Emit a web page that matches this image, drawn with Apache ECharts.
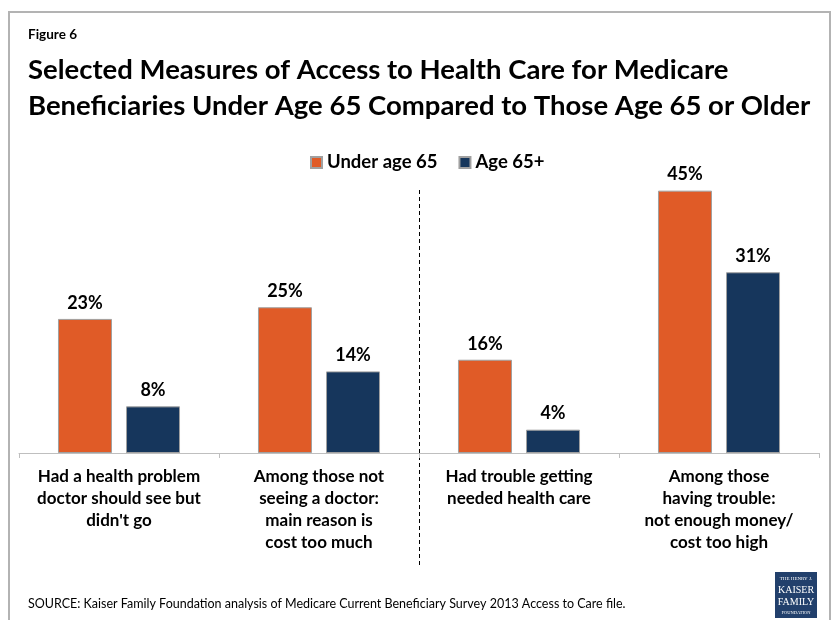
<!DOCTYPE html>
<html>
<head>
<meta charset="utf-8">
<title>Access to Health Care for Medicare Beneficiaries</title>
<script src="https://cdn.jsdelivr.net/npm/echarts@6/dist/echarts.min.js"></script>
<style>
  html, body { margin: 0; padding: 0; background: #ffffff; }
  #chart { width: 835px; height: 620px; }
</style>
</head>
<body>
<div id="chart"></div>
<script>
// Survey measures shown along the category axis
const categories = [
  "Had a health problem\ndoctor should see but\ndidn't go",
  "Among those not\nseeing a doctor:\nmain reason is\ncost too much",
  "Had trouble getting\nneeded health care",
  "Among those\nhaving trouble:\nnot enough money/\ncost too high"
];
const seriesNames = ["Under age 65", "Age 65+"];
const underAge65 = [23, 25, 16, 45];
const age65Plus = [8, 14, 4, 31];

const FONT = "Lato, 'Open Sans', sans-serif";
const ORANGE = '#E05B27';
const NAVY = '#16365C';

const chart = echarts.init(document.getElementById('chart'), null, { renderer: 'canvas' });

const barLabel = {
  show: true,
  position: 'top',
  distance: 7,
  formatter: '{c}%',
  color: '#000',
  fontFamily: FONT,
  fontWeight: 'bold',
  fontSize: 18
};

chart.setOption({
  backgroundColor: '#ffffff',
  animation: false,
  textStyle: { fontFamily: FONT },
  legend: {
    data: seriesNames,
    top: 148,
    left: 305,
    itemWidth: 11,
    itemHeight: 11,
    itemGap: 21,
    icon: 'rect',
    textStyle: { fontFamily: FONT, fontWeight: 'bold', fontSize: 18.5, color: '#000' }
  },
  grid: { left: 19, right: 16, top: 161.5, bottom: 167, containLabel: false },
  xAxis: {
    type: 'category',
    data: categories,
    axisLine: { lineStyle: { color: '#BFBFBF', width: 1 } },
    axisTick: { show: true, length: 5, lineStyle: { color: '#BFBFBF' } },
    axisLabel: {
      interval: 0,
      margin: 13,
      lineHeight: 22,
      color: '#000',
      fontFamily: FONT,
      fontWeight: 'bold',
      fontSize: 17
    }
  },
  yAxis: {
    type: 'value',
    min: 0,
    max: 50,
    show: false,
    splitLine: { show: false }
  },
  series: [
    {
      name: seriesNames[0],
      type: 'bar',
      data: underAge65,
      barWidth: 54,
      barGap: '26%',
      itemStyle: { color: ORANGE, borderColor: '#A0A0A0', borderWidth: 1 },
      label: barLabel
    },
    {
      name: seriesNames[1],
      type: 'bar',
      data: age65Plus,
      barWidth: 54,
      barGap: '26%',
      itemStyle: { color: NAVY, borderColor: '#A0A0A0', borderWidth: 1 },
      label: barLabel
    }
  ]
});

// Separator between the two pairs of measures, placed on the category boundary
const x1 = chart.convertToPixel({ xAxisIndex: 0 }, categories[1]);
const x2 = chart.convertToPixel({ xAxisIndex: 0 }, categories[2]);
const sepX = Math.round((x1 + x2) / 2) + 0.5;

chart.setOption({
  graphic: [
    // Slide frame
    {
      type: 'rect',
      shape: { x: 9, y: 12, width: 821, height: 620 },
      style: { fill: null, stroke: '#B3B3B3', lineWidth: 2 },
      silent: true
    },
    {
      type: 'text',
      left: 28, top: 28,
      style: { text: 'Figure 6', fontFamily: FONT, fontWeight: 'bold', fontSize: 13.5, fill: '#000' }
    },
    {
      type: 'text',
      left: 28, top: 52,
      style: {
        text: 'Selected Measures of Access to Health Care for Medicare\nBeneficiaries Under Age 65 Compared to Those Age 65 or Older',
        fontFamily: FONT, fontWeight: 'bold', fontSize: 27.5, lineHeight: 36, fill: '#000'
      }
    },
    {
      type: 'line',
      shape: { x1: sepX, y1: 190, x2: sepX, y2: 566 },
      style: { stroke: '#000', lineWidth: 1, lineDash: [4, 3] },
      silent: true
    },
    {
      type: 'text',
      left: 28, top: 597,
      style: {
        text: 'SOURCE: Kaiser Family Foundation analysis of Medicare Current Beneficiary Survey 2013 Access to Care file.',
        fontFamily: FONT, fontSize: 12.5, fill: '#000'
      }
    },
    // Foundation logo
    {
      type: 'group',
      left: 775, top: 572,
      children: [
        { type: 'rect', shape: { x: 0, y: 0, width: 42, height: 46 }, style: { fill: '#22406C' } },
        { type: 'text', x: 21, y: 7, style: { text: 'THE HENRY J.', fontFamily: "'Liberation Serif', serif", fontSize: 5, fill: '#fff', align: 'center', verticalAlign: 'middle' } },
        { type: 'text', x: 21, y: 18, style: { text: 'KAISER', fontFamily: "'Liberation Serif', serif", fontSize: 10, fill: '#fff', align: 'center', verticalAlign: 'middle' } },
        { type: 'text', x: 21, y: 30, style: { text: 'FAMILY', fontFamily: "'Liberation Serif', serif", fontSize: 10, fill: '#fff', align: 'center', verticalAlign: 'middle' } },
        { type: 'text', x: 21, y: 41, style: { text: 'FOUNDATION', fontFamily: "'Liberation Serif', serif", fontSize: 4.5, fill: '#fff', align: 'center', verticalAlign: 'middle' } }
      ]
    }
  ]
});
</script>
</body>
</html>
